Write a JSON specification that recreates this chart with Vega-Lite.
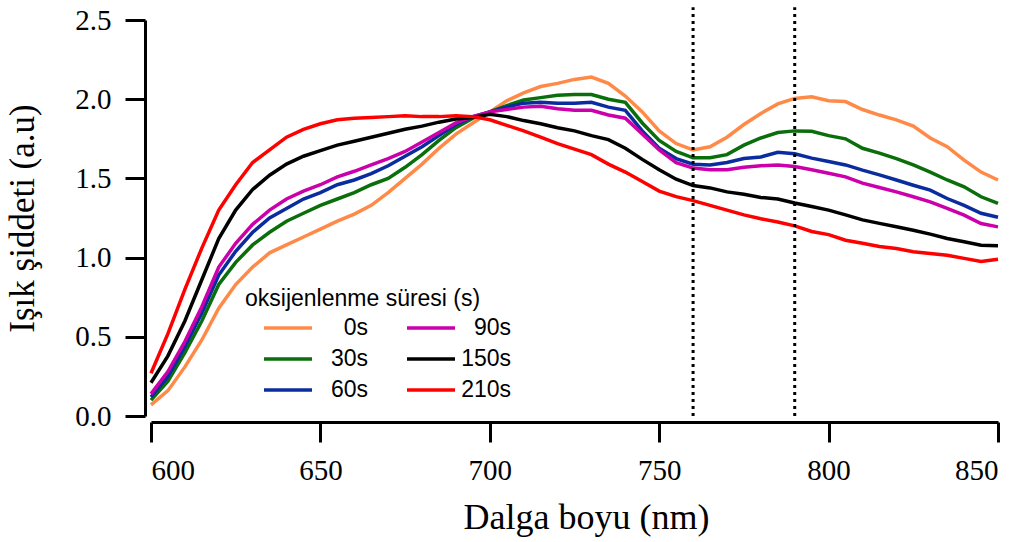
{
  "$schema": "https://vega.github.io/schema/vega-lite/v6.json",
  "width": 847,
  "height": 396,
  "autosize": {"type": "none"},
  "padding": {"left": 151, "top": 20, "right": 31, "bottom": 126},
  "background": "white",
  "config": {
    "view": {"stroke": null},
    "axis": {
      "grid": false,
      "domainColor": "black",
      "domainWidth": 3,
      "tickColor": "black",
      "tickWidth": 3,
      "tickSize": 20,
      "labelFont": "Liberation Serif",
      "labelFontSize": 29,
      "labelColor": "black",
      "titleFont": "Liberation Serif",
      "titleFontSize": 36,
      "titleFontWeight": "normal",
      "titleColor": "black",
      "offset": 6
    }
  },
  "layer": [
    {
      "data": {
        "values": [
          {"nm": 600, "0s": 0.07, "30s": 0.10, "60s": 0.12, "90s": 0.14, "150s": 0.21, "210s": 0.27},
          {"nm": 605, "0s": 0.16, "30s": 0.22, "60s": 0.25, "90s": 0.28, "150s": 0.38, "210s": 0.52},
          {"nm": 610, "0s": 0.31, "30s": 0.40, "60s": 0.44, "90s": 0.47, "150s": 0.60, "210s": 0.80},
          {"nm": 615, "0s": 0.48, "30s": 0.60, "60s": 0.65, "90s": 0.69, "150s": 0.86, "210s": 1.06},
          {"nm": 620, "0s": 0.68, "30s": 0.83, "60s": 0.89, "90s": 0.94, "150s": 1.12, "210s": 1.30},
          {"nm": 625, "0s": 0.83, "30s": 0.97, "60s": 1.04, "90s": 1.09, "150s": 1.30, "210s": 1.46},
          {"nm": 630, "0s": 0.94, "30s": 1.08, "60s": 1.16, "90s": 1.21, "150s": 1.43, "210s": 1.60},
          {"nm": 635, "0s": 1.03, "30s": 1.16, "60s": 1.25, "90s": 1.30, "150s": 1.52, "210s": 1.68},
          {"nm": 640, "0s": 1.08, "30s": 1.23, "60s": 1.31, "90s": 1.37, "150s": 1.59, "210s": 1.76},
          {"nm": 645, "0s": 1.13, "30s": 1.28, "60s": 1.37, "90s": 1.42, "150s": 1.64, "210s": 1.81},
          {"nm": 650, "0s": 1.18, "30s": 1.33, "60s": 1.41, "90s": 1.46, "150s": 1.675, "210s": 1.845},
          {"nm": 655, "0s": 1.23, "30s": 1.37, "60s": 1.46, "90s": 1.51, "150s": 1.71, "210s": 1.87},
          {"nm": 660, "0s": 1.275, "30s": 1.41, "60s": 1.49, "90s": 1.545, "150s": 1.735, "210s": 1.88},
          {"nm": 665, "0s": 1.33, "30s": 1.46, "60s": 1.53, "90s": 1.585, "150s": 1.76, "210s": 1.885},
          {"nm": 670, "0s": 1.41, "30s": 1.50, "60s": 1.58, "90s": 1.625, "150s": 1.785, "210s": 1.89},
          {"nm": 675, "0s": 1.50, "30s": 1.57, "60s": 1.64, "90s": 1.67, "150s": 1.81, "210s": 1.895},
          {"nm": 680, "0s": 1.59, "30s": 1.65, "60s": 1.70, "90s": 1.73, "150s": 1.83, "210s": 1.89},
          {"nm": 685, "0s": 1.69, "30s": 1.74, "60s": 1.77, "90s": 1.79, "150s": 1.855, "210s": 1.89},
          {"nm": 690, "0s": 1.78, "30s": 1.82, "60s": 1.84, "90s": 1.85, "150s": 1.875, "210s": 1.895},
          {"nm": 695, "0s": 1.85, "30s": 1.88, "60s": 1.89, "90s": 1.89, "150s": 1.885, "210s": 1.89},
          {"nm": 700, "0s": 1.92, "30s": 1.92, "60s": 1.92, "90s": 1.92, "150s": 1.905, "210s": 1.87},
          {"nm": 705, "0s": 1.99, "30s": 1.96, "60s": 1.95, "90s": 1.935, "150s": 1.89, "210s": 1.835},
          {"nm": 710, "0s": 2.04, "30s": 1.995, "60s": 1.975, "90s": 1.95, "150s": 1.865, "210s": 1.80},
          {"nm": 715, "0s": 2.08, "30s": 2.01, "60s": 1.98, "90s": 1.955, "150s": 1.845, "210s": 1.76},
          {"nm": 720, "0s": 2.10, "30s": 2.025, "60s": 1.975, "90s": 1.94, "150s": 1.82, "210s": 1.72},
          {"nm": 725, "0s": 2.125, "30s": 2.03, "60s": 1.975, "90s": 1.93, "150s": 1.80, "210s": 1.685},
          {"nm": 730, "0s": 2.14, "30s": 2.03, "60s": 1.98, "90s": 1.93, "150s": 1.77, "210s": 1.65},
          {"nm": 735, "0s": 2.10, "30s": 2.00, "60s": 1.95, "90s": 1.90, "150s": 1.745, "210s": 1.59},
          {"nm": 740, "0s": 2.02, "30s": 1.98, "60s": 1.93, "90s": 1.88, "150s": 1.69, "210s": 1.54},
          {"nm": 745, "0s": 1.92, "30s": 1.85, "60s": 1.80, "90s": 1.78, "150s": 1.62, "210s": 1.48},
          {"nm": 750, "0s": 1.80, "30s": 1.74, "60s": 1.69, "90s": 1.68, "150s": 1.555, "210s": 1.42},
          {"nm": 755, "0s": 1.72, "30s": 1.67, "60s": 1.625, "90s": 1.60, "150s": 1.495, "210s": 1.385},
          {"nm": 760, "0s": 1.68, "30s": 1.63, "60s": 1.59, "90s": 1.565, "150s": 1.455, "210s": 1.36},
          {"nm": 765, "0s": 1.70, "30s": 1.63, "60s": 1.585, "90s": 1.555, "150s": 1.44, "210s": 1.33},
          {"nm": 770, "0s": 1.76, "30s": 1.65, "60s": 1.60, "90s": 1.555, "150s": 1.415, "210s": 1.30},
          {"nm": 775, "0s": 1.84, "30s": 1.71, "60s": 1.625, "90s": 1.57, "150s": 1.40, "210s": 1.27},
          {"nm": 780, "0s": 1.91, "30s": 1.755, "60s": 1.635, "90s": 1.58, "150s": 1.38, "210s": 1.245},
          {"nm": 785, "0s": 1.97, "30s": 1.79, "60s": 1.665, "90s": 1.585, "150s": 1.37, "210s": 1.225},
          {"nm": 790, "0s": 2.005, "30s": 1.80, "60s": 1.655, "90s": 1.575, "150s": 1.345, "210s": 1.20},
          {"nm": 795, "0s": 2.015, "30s": 1.798, "60s": 1.628, "90s": 1.555, "150s": 1.323, "210s": 1.165},
          {"nm": 800, "0s": 1.99, "30s": 1.77, "60s": 1.607, "90s": 1.533, "150s": 1.30, "210s": 1.145},
          {"nm": 805, "0s": 1.985, "30s": 1.75, "60s": 1.585, "90s": 1.51, "150s": 1.27, "210s": 1.11},
          {"nm": 810, "0s": 1.935, "30s": 1.69, "60s": 1.552, "90s": 1.47, "150s": 1.238, "210s": 1.09},
          {"nm": 815, "0s": 1.90, "30s": 1.66, "60s": 1.522, "90s": 1.443, "150s": 1.216, "210s": 1.07},
          {"nm": 820, "0s": 1.87, "30s": 1.625, "60s": 1.49, "90s": 1.415, "150s": 1.195, "210s": 1.057},
          {"nm": 825, "0s": 1.83, "30s": 1.585, "60s": 1.457, "90s": 1.384, "150s": 1.173, "210s": 1.037},
          {"nm": 830, "0s": 1.755, "30s": 1.54, "60s": 1.426, "90s": 1.352, "150s": 1.148, "210s": 1.026},
          {"nm": 835, "0s": 1.70, "30s": 1.49, "60s": 1.373, "90s": 1.31, "150s": 1.121, "210s": 1.015},
          {"nm": 840, "0s": 1.615, "30s": 1.447, "60s": 1.33, "90s": 1.268, "150s": 1.10, "210s": 0.995},
          {"nm": 845, "0s": 1.54, "30s": 1.384, "60s": 1.28, "90s": 1.215, "150s": 1.078, "210s": 0.975},
          {"nm": 850, "0s": 1.49, "30s": 1.342, "60s": 1.255, "90s": 1.194, "150s": 1.075, "210s": 0.99}
        ]
      },
      "transform": [
        {"fold": ["0s", "30s", "60s", "90s", "150s", "210s"], "as": ["sure", "deger"]}
      ],
      "mark": {"type": "line", "strokeWidth": 3.5, "clip": false},
      "encoding": {
        "x": {
          "field": "nm", "type": "quantitative",
          "scale": {"domain": [600, 850], "nice": false, "zero": false},
          "axis": {"values": [600, 650, 700, 750, 800, 850], "title": "Dalga boyu (nm)", "labelPadding": 14, "titlePadding": 15, "titleX": 435}
        },
        "y": {
          "field": "deger", "type": "quantitative",
          "scale": {"domain": [0, 2.5], "nice": false, "zero": false},
          "axis": {"values": [0, 0.5, 1, 1.5, 2, 2.5], "format": ".1f", "title": "Işık şiddeti (a.u)", "labelPadding": 14, "titlePadding": 34, "titleFontSize": 35}
        },
        "color": {
          "field": "sure", "type": "nominal",
          "scale": {
            "domain": ["0s", "30s", "60s", "90s", "150s", "210s"],
            "range": ["#FF8A48", "#0A6E0A", "#0A2C9E", "#CC00AA", "#000000", "#FF0000"]
          },
          "legend": {
            "title": "oksijenlenme süresi (s)",
            "orient": "none",
            "legendX": 94,
            "legendY": 268,
            "columns": 2,
            "symbolType": "M-2,0H2",
            "symbolSize": 576,
            "symbolStrokeWidth": 3.5,
            "symbolOffset": 29,
            "labelOffset": 66,
            "labelAlign": "right",
            "labelFont": "Liberation Sans",
            "labelFontSize": 23,
            "labelColor": "black",
            "titleFont": "Liberation Sans",
            "titleFontSize": 23,
            "titleFontWeight": "normal",
            "titleColor": "black",
            "titleLimit": 400,
            "titlePadding": 3,
            "rowPadding": 5,
            "columnPadding": 20,
            "padding": 0
          }
        }
      }
    },
    {
      "data": {"values": [{"nm": 760}, {"nm": 790}]},
      "mark": {"type": "rule", "color": "black", "strokeWidth": 3, "strokeDash": [3, 4], "clip": false},
      "encoding": {
        "x": {"field": "nm", "type": "quantitative"},
        "y": {"datum": 0},
        "y2": {"datum": 2.58}
      }
    }
  ]
}
